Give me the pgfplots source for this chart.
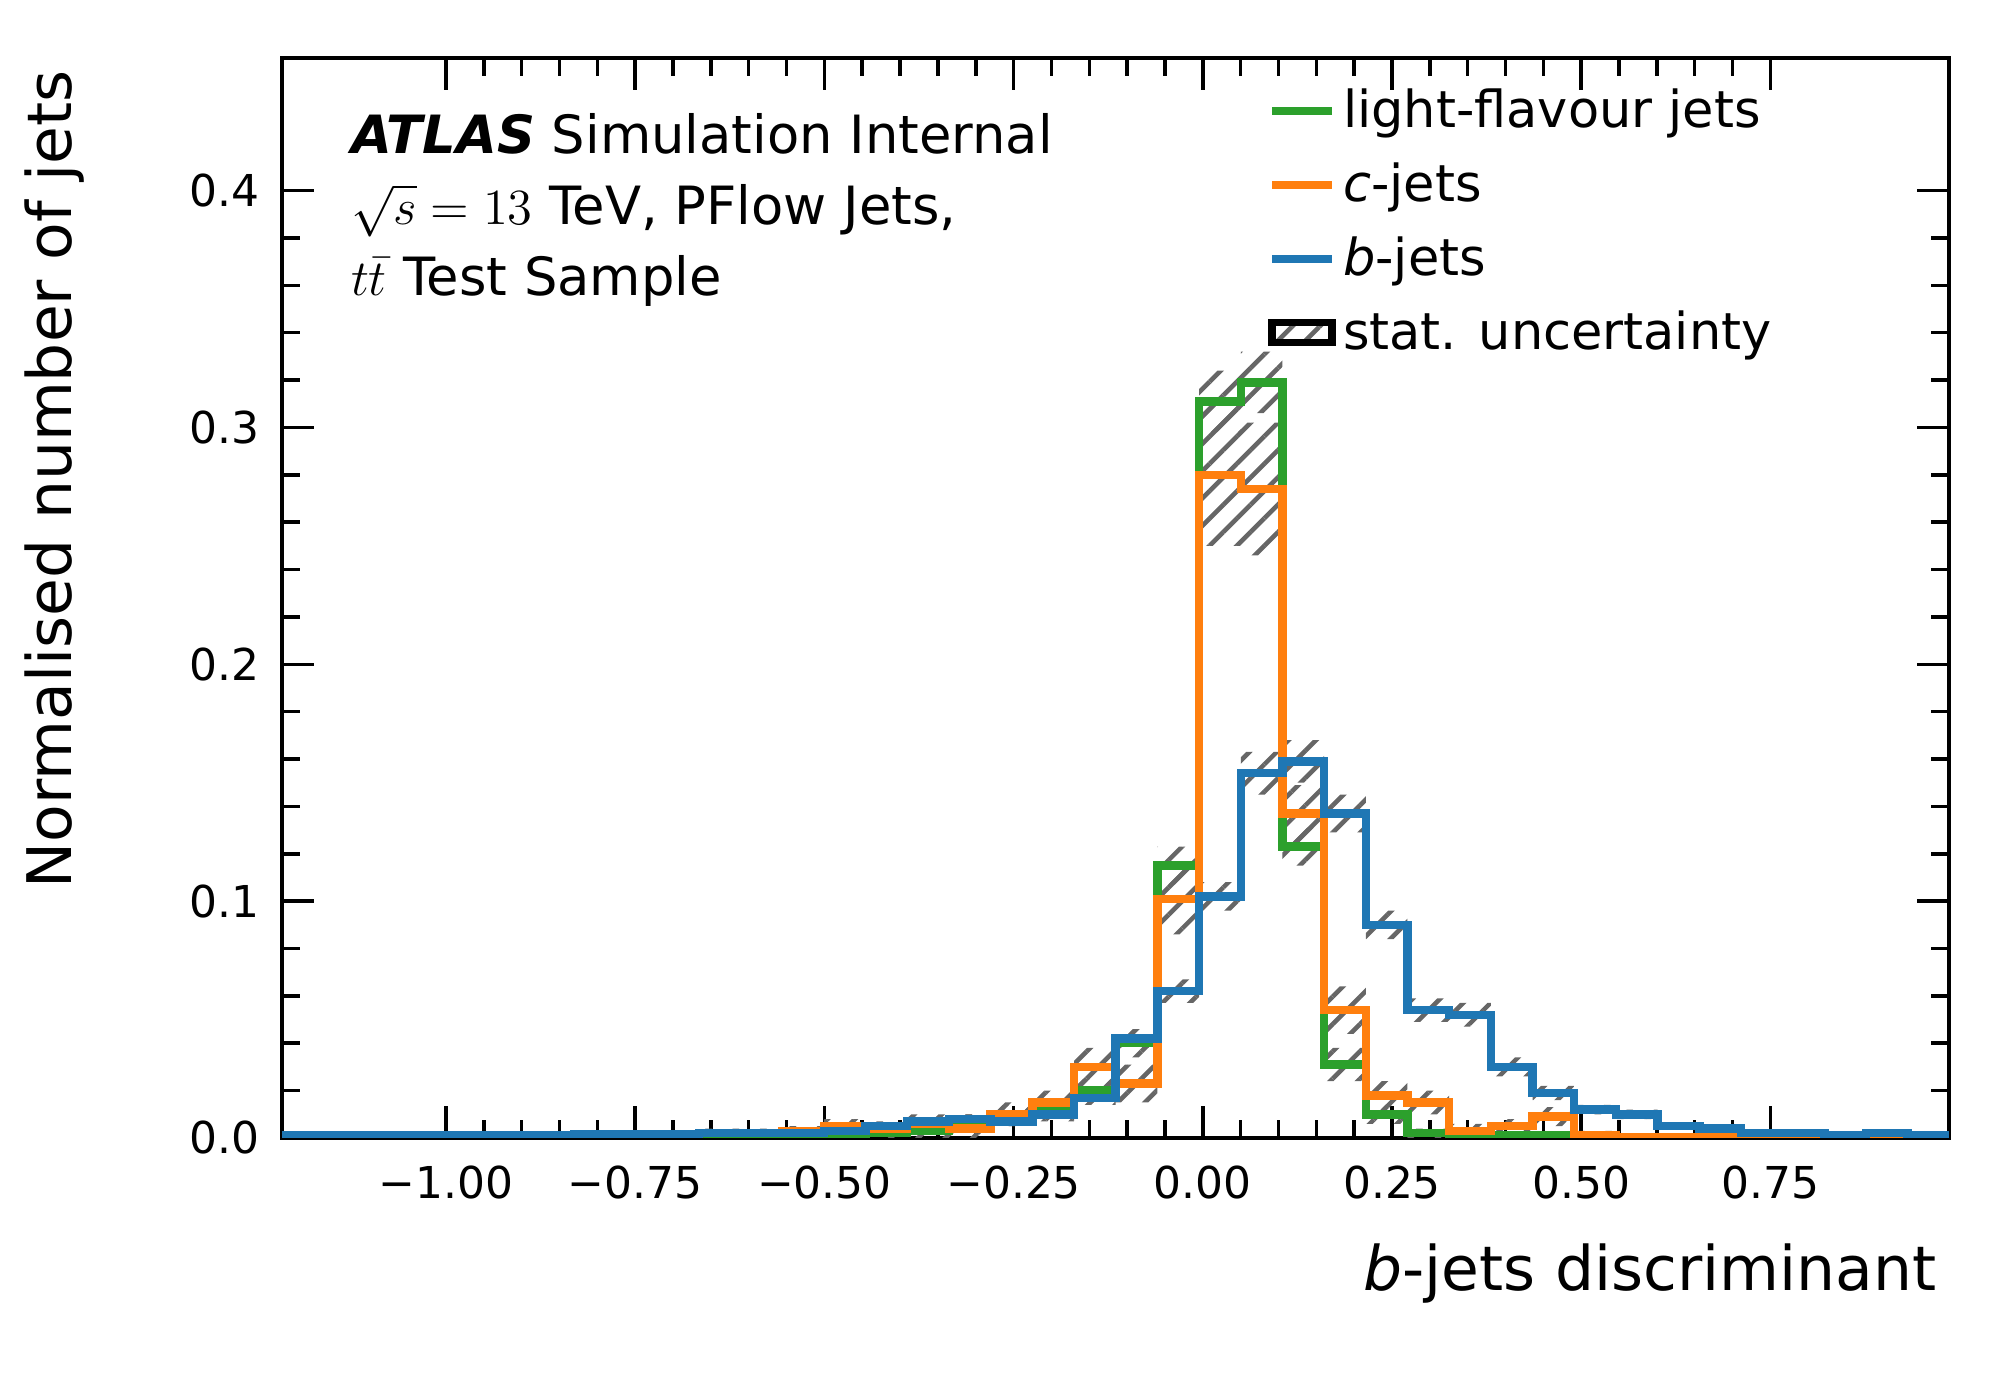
\documentclass[border=0pt]{standalone}
\usepackage{pgfplots}
\pgfplotsset{compat=1.18}
\usepackage{pgfplotstable}
\usepgfplotslibrary{fillbetween}
\usetikzlibrary{patterns.meta}
\usepackage{fontspec}
\setmainfont{DejaVu Sans}
\definecolor{mplgreen}{HTML}{2CA02C}
\definecolor{mplorange}{HTML}{FF7F0E}
\definecolor{mplblue}{HTML}{1F77B4}
\tikzset{hatch/.style={draw=none,pattern={Lines[angle=45,distance=5.5pt,line width=1.3pt]},pattern color=black!60}}
% k = bin index, edges at -1.2167+0.05508*k
\pgfplotstableread{
k y e
0 0.0003 0.0005
1 0.0003 0.0005
2 0.0003 0.0005
3 0.0003 0.0005
4 0.0003 0.0005
5 0.0003 0.0005
6 0.0003 0.0005
7 0.0003 0.0005
8 0.0003 0.0005
9 0.0003 0.0005
10 0.0005 0.0008
11 0.0005 0.0008
12 0.0008 0.001
13 0.001 0.0015
14 0.002 0.002
15 0.003 0.003
16 0.006 0.004
17 0.010 0.004
18 0.012 0.004
19 0.020 0.005
20 0.040 0.006
21 0.115 0.008
22 0.311 0.013
23 0.319 0.013
24 0.123 0.008
25 0.031 0.007
26 0.010 0.004
27 0.002 0.002
28 0.001 0.001
29 0.001 0.001
30 0.001 0.001
31 0.001 0.001
32 0.0003 0.0005
33 0.0003 0.0005
34 0.0003 0.0005
35 0.0003 0.0005
36 0.0003 0.0005
37 0.0003 0.0005
38 0.0003 0.0005
39 0.0003 0.0005
40 0.0003 0.0005
}\light
\pgfplotstableread{
k y e
0 0.0003 0.0005
1 0.0003 0.0005
2 0.0003 0.0005
3 0.0003 0.0005
4 0.0003 0.0005
5 0.0003 0.0005
6 0.0005 0.0008
7 0.0005 0.0008
8 0.001 0.001
9 0.001 0.001
10 0.002 0.002
11 0.002 0.002
12 0.003 0.002
13 0.005 0.003
14 0.004 0.003
15 0.006 0.004
16 0.004 0.004
17 0.010 0.005
18 0.015 0.005
19 0.030 0.008
20 0.023 0.008
21 0.101 0.015
22 0.280 0.030
23 0.274 0.028
24 0.137 0.012
25 0.054 0.010
26 0.018 0.006
27 0.015 0.005
28 0.003 0.003
29 0.005 0.003
30 0.009 0.004
31 0.001 0.002
32 0.0005 0.001
33 0.0003 0.0005
34 0.0003 0.0005
35 0.0003 0.0005
36 0.0003 0.0005
37 0.0003 0.0005
38 0.0003 0.0005
39 0.0003 0.0005
40 0.0003 0.0005
}\cjets
\pgfplotstableread{
k y e
0 0.001 0.0005
1 0.001 0.0005
2 0.001 0.0005
3 0.001 0.0005
4 0.001 0.0005
5 0.001 0.0005
6 0.001 0.0005
7 0.0015 0.0005
8 0.0015 0.0005
9 0.0015 0.0005
10 0.002 0.0008
11 0.002 0.0008
12 0.002 0.001
13 0.003 0.001
14 0.005 0.0015
15 0.007 0.002
16 0.008 0.002
17 0.007 0.002
18 0.010 0.003
19 0.017 0.003
20 0.042 0.004
21 0.062 0.005
22 0.102 0.006
23 0.154 0.009
24 0.159 0.009
25 0.137 0.008
26 0.090 0.006
27 0.054 0.005
28 0.052 0.005
29 0.030 0.004
30 0.019 0.003
31 0.012 0.002
32 0.010 0.002
33 0.005 0.0015
34 0.004 0.001
35 0.002 0.001
36 0.002 0.001
37 0.001 0.0008
38 0.002 0.001
39 0.001 0.0008
40 0.001 0.0008
}\bjets
\begin{document}
\begin{tikzpicture}
\begin{axis}[
  scale only axis, width=166.7mm, height=108mm,
  xmin=-1.2167, xmax=0.986, ymin=0, ymax=0.456,
  axis line style={line width=1.2pt},
  tick align=inside, ticks=both,
  xtick pos=both, ytick pos=both,
  major tick length=3.2mm, minor tick length=1.8mm,
  every tick/.style={black, line width=1pt},
  xtick={-1,-0.75,-0.5,-0.25,0,0.25,0.5,0.75},
  xticklabels={−1.00,−0.75,−0.50,−0.25,0.00,0.25,0.50,0.75},
  minor x tick num=4,
  ytick={0,0.1,0.2,0.3,0.4},
  yticklabels={0.0,0.1,0.2,0.3,0.4},
  minor y tick num=4,
  tick label style={font=\fontsize{12.5}{14}\selectfont},
  xticklabel style={yshift=-1.5mm},
  yticklabel style={xshift=-1mm},
  legend style={draw=none, fill=none, at={(0.585,0.985)}, anchor=north west,
    font=\fontsize{14.5}{17}\selectfont, row sep=4.5pt,
    legend cell align=left},
  legend image post style={line width=2.2pt},
]
\addplot[const plot, mplgreen, line width=2.4pt] table[x expr=-1.2167+0.05508*\thisrow{k}, y=y] {\light};
\addlegendentry{light-flavour jets}
\addplot[const plot, mplorange, line width=2.4pt] table[x expr=-1.2167+0.05508*\thisrow{k}, y=y] {\cjets};
\addlegendentry{\textit{c}-jets}
\addplot[const plot, mplblue, line width=2.4pt] table[x expr=-1.2167+0.05508*\thisrow{k}, y=y] {\bjets};
\addlegendentry{\textit{b}-jets}
% uncertainty bands
\addplot[const plot, draw=none, name path=lu, forget plot] table[x expr=-1.2167+0.05508*\thisrow{k}, y expr=\thisrow{y}+\thisrow{e}] {\light};
\addplot[const plot, draw=none, name path=ll, forget plot] table[x expr=-1.2167+0.05508*\thisrow{k}, y expr={max(\thisrow{y}-\thisrow{e},0)}] {\light};
\addplot[const plot, draw=none, name path=cu, forget plot] table[x expr=-1.2167+0.05508*\thisrow{k}, y expr=\thisrow{y}+\thisrow{e}] {\cjets};
\addplot[const plot, draw=none, name path=cl, forget plot] table[x expr=-1.2167+0.05508*\thisrow{k}, y expr={max(\thisrow{y}-\thisrow{e},0)}] {\cjets};
\addplot[const plot, draw=none, name path=bu, forget plot] table[x expr=-1.2167+0.05508*\thisrow{k}, y expr=\thisrow{y}+\thisrow{e}] {\bjets};
\addplot[const plot, draw=none, name path=bl, forget plot] table[x expr=-1.2167+0.05508*\thisrow{k}, y expr={max(\thisrow{y}-\thisrow{e},0)}] {\bjets};
\addplot[hatch, area legend] fill between[of=lu and ll];
\addlegendentry{stat. uncertainty}
\addplot[hatch, forget plot] fill between[of=cu and cl];
\addplot[hatch, forget plot] fill between[of=bu and bl];
\node[anchor=base west, font=\fontsize{15}{18}\selectfont] at (rel axis cs:0.034,0.912) {\textbf{\textit{ATLAS}} Simulation Internal};
\node[anchor=base west, font=\fontsize{15}{18}\selectfont] at (rel axis cs:0.034,0.846) {$\sqrt{s}=13$ TeV, PFlow Jets,};
\node[anchor=base west, font=\fontsize{15}{18}\selectfont] at (rel axis cs:0.034,0.780) {$t\bar{t}$ Test Sample};
\end{axis}
\node[anchor=base east, font=\fontsize{17.5}{20}\selectfont] at ([yshift=-15.3mm]current axis.south east) {\textit{b}-jets discriminant};
\node[anchor=north east, rotate=90, font=\fontsize{17.5}{20}\selectfont] at ([xshift=-27mm]current axis.north west) {Normalised number of jets};
\pgfresetboundingbox
\path ([shift={(-28.2mm,-26.2mm)}]current axis.south west) rectangle ([shift={(5.1mm,5.8mm)}]current axis.north east);
\end{tikzpicture}
\end{document}
